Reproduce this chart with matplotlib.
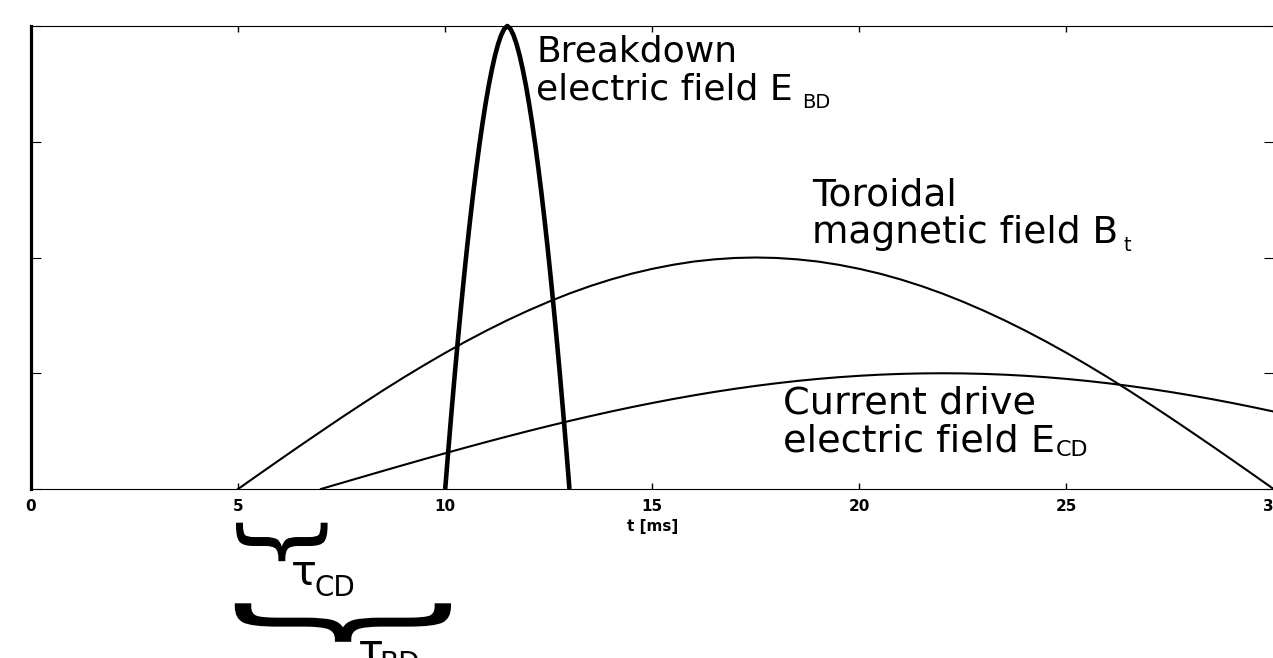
import numpy as np
import matplotlib
matplotlib.use("Agg")
import matplotlib.pyplot as plt
from matplotlib import transforms
from matplotlib.textpath import TextPath
from matplotlib.patches import PathPatch
from matplotlib.font_manager import FontProperties
from matplotlib.path import Path

# ---------------- data ----------------
# Breakdown electric field E_BD
t_bd = [10.0, 10.075, 10.15, 10.225, 10.3, 10.375, 10.45, 10.525, 10.6, 10.675,
        10.75, 10.825, 10.9, 10.975, 11.05, 11.125, 11.2, 11.275, 11.35, 11.425,
        11.5, 11.575, 11.65, 11.725, 11.8, 11.875, 11.95, 12.025, 12.1, 12.175,
        12.25, 12.325, 12.4, 12.475, 12.55, 12.625, 12.7, 12.775, 12.85, 12.925,
        13.0]
e_bd = [0.0, 0.334, 0.656, 0.966, 1.263, 1.547, 1.818, 2.077, 2.321, 2.552,
        2.769, 2.971, 3.158, 3.329, 3.484, 3.621, 3.741, 3.841, 3.920, 3.975,
        4.0, 3.975, 3.920, 3.841, 3.741, 3.621, 3.484, 3.329, 3.158, 2.971,
        2.769, 2.552, 2.321, 2.077, 1.818, 1.547, 1.263, 0.966, 0.656, 0.334,
        0.0]

# Toroidal magnetic field B_t
t_bt = [5.0, 5.5, 6.0, 6.5, 7.0, 7.5, 8.0, 8.5, 9.0, 9.5, 10.0, 10.5, 11.0, 11.5,
        12.0, 12.5, 13.0, 13.5, 14.0, 14.5, 15.0, 15.5, 16.0, 16.5, 17.0, 17.5,
        18.0, 18.5, 19.0, 19.5, 20.0, 20.5, 21.0, 21.5, 22.0, 22.5, 23.0, 23.5,
        24.0, 24.5, 25.0, 25.5, 26.0, 26.5, 27.0, 27.5, 28.0, 28.5, 29.0, 29.5,
        30.0]
b_t = [0.0, 0.126, 0.251, 0.375, 0.497, 0.618, 0.736, 0.852, 0.964, 1.072,
       1.176, 1.275, 1.369, 1.458, 1.541, 1.618, 1.689, 1.753, 1.810, 1.860,
       1.902, 1.937, 1.965, 1.984, 1.996, 2.0, 1.996, 1.984, 1.965, 1.937,
       1.902, 1.860, 1.810, 1.753, 1.689, 1.618, 1.541, 1.458, 1.369, 1.275,
       1.176, 1.072, 0.964, 0.852, 0.736, 0.618, 0.497, 0.375, 0.251, 0.126,
       0.0]

# Current drive electric field E_CD
t_cd = [7.0, 7.5, 8.0, 8.5, 9.0, 9.5, 10.0, 10.5, 11.0, 11.5, 12.0, 12.5, 13.0,
        13.5, 14.0, 14.5, 15.0, 15.5, 16.0, 16.5, 17.0, 17.5, 18.0, 18.5, 19.0,
        19.5, 20.0, 20.5, 21.0, 21.5, 22.0, 22.5, 23.0, 23.5, 24.0, 24.5, 25.0,
        25.5, 26.0, 26.5, 27.0, 27.5, 28.0, 28.5, 29.0, 29.5, 30.0]
e_cd = [0.0, 0.0523, 0.1045, 0.1564, 0.2079, 0.2588, 0.3090, 0.3584, 0.4067,
        0.4540, 0.5, 0.5446, 0.5878, 0.6293, 0.6691, 0.7071, 0.7431, 0.7771,
        0.8090, 0.8387, 0.8660, 0.8910, 0.9135, 0.9336, 0.9511, 0.9659, 0.9781,
        0.9877, 0.9945, 0.9986, 1.0, 0.9986, 0.9945, 0.9877, 0.9781, 0.9659,
        0.9511, 0.9336, 0.9135, 0.8910, 0.8660, 0.8387, 0.8090, 0.7771, 0.7431,
        0.7071, 0.6691]

x_ticks = [0, 5, 10, 15, 20, 25, 30]
y_ticks = [0, 1, 2, 3, 4]

# time intervals marked by braces below the axis (start, end in ms)
tau_names = ["CD", "BD"]
tau_start = [4.95, 4.92]
tau_end = [7.16, 10.14]

# ---------------- figure ----------------
W, H = 1273, 658
fig = plt.figure(figsize=(W / 100, H / 100), dpi=100)
ax = fig.add_axes([31 / W, (H - 489) / H, (1273.6 - 31) / W, 463 / H])

ax.plot(t_bt, b_t, color="black", lw=1.5)
ax.plot(t_cd, e_cd, color="black", lw=1.5)
ax.plot(t_bd, e_bd, color="black", lw=3.3, clip_on=False, solid_capstyle="butt")

ax.set_xlim(0, 30)
ax.set_ylim(0, 4)
ax.set_xticks(x_ticks)
ax.set_xticklabels([str(v) for v in x_ticks], fontfamily="DejaVu Sans",
                   fontweight="bold", fontsize=11)
ax.set_yticks(y_ticks)
ax.set_yticklabels([])
ax.tick_params(axis="x", direction="in", top=True, length=4.3, width=1.0,
               pad=7.0, color="black")
ax.tick_params(axis="y", direction="in", right=True, length=7.2, width=0.8,
               color="black")
ax.set_xlabel("t [ms]", fontfamily="DejaVu Sans", fontweight="bold",
              fontsize=11, labelpad=4)

for side in ["top", "bottom", "right"]:
    ax.spines[side].set_linewidth(0.8)
ax.spines["left"].set_linewidth(2.3)

# ---------------- annotations ----------------


def label(x, y1, y2, line1, line2, sub, dx, dy, fs, subfs):
    ax.text(x, y1, line1, fontsize=fs, fontfamily="DejaVu Sans", va="baseline",
            ha="left")
    t2 = ax.text(x, y2, line2, fontsize=fs, fontfamily="DejaVu Sans",
                 va="baseline", ha="left")
    ax.annotate(sub, xy=(1, y2), xycoords=(t2, "data"), xytext=(dx, -dy),
                textcoords="offset points", fontsize=subfs,
                fontfamily="DejaVu Sans", va="baseline", ha="left",
                annotation_clip=False)


label(12.20, 3.690, 3.362, "Breakdown", "electric field E", "BD", 6.5, 5.8, 26, 14)
label(18.85, 2.448, 2.123, "Toroidal", "magnetic field B", "t", 3.8, 5.8, 27, 14)
label(18.15, 0.653, 0.322, "Current drive", "electric field E", "CD", 0.6, 3.0, 27.5, 16)

# ---------------- braces below the time axis ----------------
fp = FontProperties(family="DejaVu Sans")
glyph = TextPath((0, 0), "}", prop=fp, size=1)
ext = glyph.get_extents()
gv = glyph.vertices
u = (gv[:, 1] - ext.y0) / ext.height      # along the brace
w = (gv[:, 0] - ext.x0) / ext.width       # depth (1 = tip)
blend = transforms.blended_transform_factory(ax.transData, fig.transFigure)

brace_top = [522.7, 603.3]
brace_depth = [38.5, 38.5]
for x0, x1, top, depth in zip(tau_start, tau_end, brace_top, brace_depth):
    X = x0 + u * (x1 - x0)
    Y = (H - top - w * depth) / H
    patch = PathPatch(Path(np.column_stack([X, Y]), glyph.codes),
                      transform=blend, facecolor="black", edgecolor="none",
                      clip_on=False)
    fig.add_artist(patch)

# tau labels
tau_pos = [(6.27, 585.0, 6.84, 596.0), (7.88, 664.0, 8.40, 671.5)]
for name, (xt, yt, xs, ys) in zip(tau_names, tau_pos):
    fig.text(xt, (H - yt) / H, "\u03c4", transform=blend, fontsize=31,
             fontfamily="DejaVu Sans", va="baseline", ha="left")
    fig.text(xs, (H - ys) / H, name, transform=blend, fontsize=20,
             fontfamily="DejaVu Sans", va="baseline", ha="left")

fig.savefig("out.png", dpi=100)
